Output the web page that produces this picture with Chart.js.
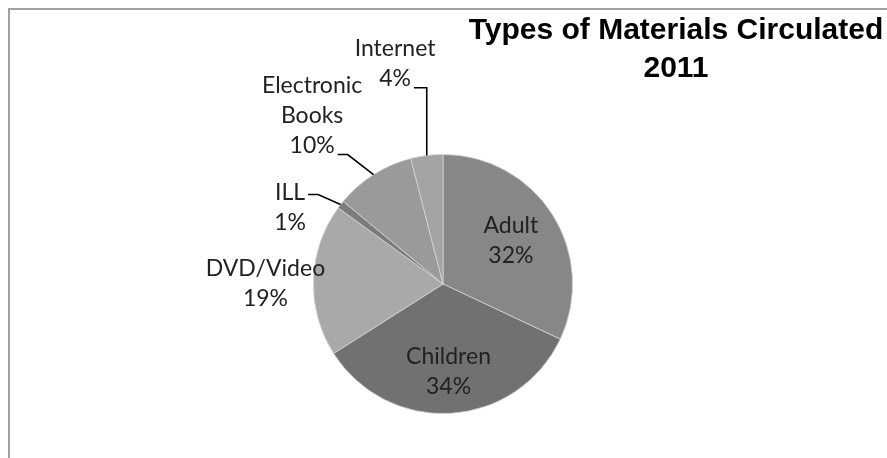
<!DOCTYPE html>
<html lang="en">
<head>
<meta charset="UTF-8">
<title>Types of Materials Circulated 2011</title>
<script src="https://cdn.jsdelivr.net/npm/chart.js"></script>
<style>
  html, body { margin: 0; padding: 0; background: #fff; }
  #wrap { position: relative; width: 887px; height: 458px; }
</style>
</head>
<body>
<div id="wrap"><canvas id="pie" width="887" height="458"></canvas></div>
<script>
const categories = ['Adult', 'Children', 'DVD/Video', 'ILL', 'Electronic Books', 'Internet'];
const shares = [32, 34, 19, 1, 10, 4];
const labelLines = [['Adult'], ['Children'], ['DVD/Video'], ['ILL'], ['Electronic', 'Books'], ['Internet']];
const sliceColors = ['#878787', '#717171', '#a9a9a9', '#7b7b7b', '#9a9a9a', '#a4a4a4'];
const titleLines = ['Types of Materials Circulated', '2011'];

// label placement, in units of the pie radius, measured from the centre
// inside: r = distance along mid angle; outside: dx/dy of block centre + leader info
const placing = [
  { inside: true, r: 0.62 },
  { inside: true, r: 0.68 },
  { dx: -1.37, dy: 0.0 },
  { dx: -1.18, dy: -0.59, lead: 0, leadY: 2 },
  { dx: -1.01, dy: -1.30, lead: 2, leadY: 9 },
  { dx: -0.37, dy: -1.70, lead: 1, leadY: 9 }
];

const LINE_H = 30;
const labelFont = '23px Lato';

const labelPlugin = {
  id: 'pieLabels',
  beforeDraw(chart) {
    const c = chart.ctx;
    c.save();
    c.strokeStyle = '#a0a0a0';
    c.lineWidth = 2;
    c.beginPath();
    c.moveTo(9, chart.height);
    c.lineTo(9, 9);
    c.lineTo(chart.width, 9);
    c.stroke();
    c.restore();
  },
  afterDraw(chart) {
    const c = chart.ctx;
    const arcs = chart.getDatasetMeta(0).data;
    c.save();
    // title
    c.fillStyle = '#000';
    c.font = 'bold 30px "Liberation Sans", Arial, sans-serif';
    c.textAlign = 'center';
    c.textBaseline = 'middle';
    titleLines.forEach((t, i) => c.fillText(t, 676, 31 + i * 38));

    c.font = labelFont;
    c.fillStyle = '#222';
    arcs.forEach((arc, i) => {
      const p = placing[i];
      const R = arc.outerRadius;
      const mid = (arc.startAngle + arc.endAngle) / 2;
      const lines = labelLines[i].concat([shares[i] + '%']);
      let cx, cy;
      if (p.inside) {
        cx = arc.x + Math.cos(mid) * R * p.r;
        cy = arc.y + Math.sin(mid) * R * p.r;
      } else {
        cx = arc.x + p.dx * R;
        cy = arc.y + p.dy * R;
      }
      const top = cy - (lines.length - 1) * LINE_H / 2;
      lines.forEach((t, k) => c.fillText(t, cx, top + k * LINE_H));

      if (p.lead !== undefined) {
        const t = lines[p.lead];
        const w = c.measureText(t).width;
        const sx = cx + w / 2 + 3;
        const sy = top + p.lead * LINE_H + p.leadY;
        const ex = arc.x + Math.cos(mid) * R;
        const ey = arc.y + Math.sin(mid) * R;
        c.strokeStyle = '#000';
        c.lineWidth = 1.6;
        c.beginPath();
        c.moveTo(sx, sy);
        if (Math.abs(ex - sx) < 20) {
          c.lineTo(ex, sy);
        } else {
          c.lineTo(sx + 10, sy);
        }
        c.lineTo(ex, ey);
        c.stroke();
      }
    });
    c.restore();
  }
};

new Chart(document.getElementById('pie'), {
  type: 'pie',
  data: {
    labels: categories,
    datasets: [{
      data: shares,
      backgroundColor: sliceColors,
      borderColor: '#d4d4d4',
      borderWidth: 0.8,
      hoverOffset: 0
    }]
  },
  options: {
    responsive: false,
    animation: false,
    layout: { padding: { left: 313, right: 314, top: 154, bottom: 44 } },
    plugins: {
      legend: { display: false },
      title: { display: false },
      tooltip: { enabled: false }
    }
  },
  plugins: [labelPlugin]
});
</script>
</body>
</html>
